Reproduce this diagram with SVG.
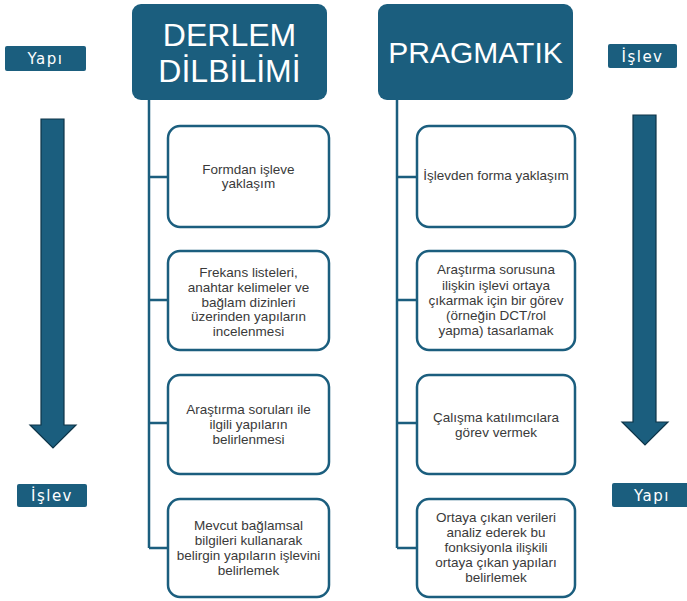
<svg xmlns="http://www.w3.org/2000/svg" width="687" height="601" viewBox="0 0 687 601">
<style>
.hdr{fill:#1B5E7E;}
.hdrt{fill:#fff;font-family:"Liberation Sans",Arial,sans-serif;text-anchor:middle;}
.lbl{fill:#1B5E7E;}
.lblt{fill:#fff;font-family:"DejaVu Sans",Verdana,sans-serif;font-size:15px;text-anchor:middle;letter-spacing:1.5px;}
.box{fill:#fff;stroke:#1B5E7E;stroke-width:2.5;}
.bt{fill:#3a3a3a;font-family:"Liberation Sans",Arial,sans-serif;font-size:13.5px;text-anchor:middle;}
.con{fill:none;stroke:#1B5E7E;stroke-width:2.5;}
.arr{fill:#1B5E7E;stroke:#0E3448;stroke-width:1.2;}
</style>
<rect width="687" height="601" fill="#fff"/>
<g id="header-derlem"><rect class="hdr" x="132" y="4" width="195" height="96" rx="9"/>
<text class="hdrt" x="229.5" y="46" font-size="32">DERLEM</text>
<text class="hdrt" x="229.5" y="82" font-size="32">DİLBİLİMİ</text></g>
<g id="header-pragmatik"><rect class="hdr" x="378" y="4" width="195" height="96" rx="9"/>
<text class="hdrt" x="475.5" y="63" font-size="30">PRAGMATIK</text></g>
<g id="label-yapi-left"><rect class="lbl" x="5" y="46" width="81" height="25" rx="2"/><text class="lblt" x="45.5" y="64">Yapı</text></g>
<g id="label-islev-right"><rect class="lbl" x="608" y="44" width="69" height="24" rx="2"/><text class="lblt" x="642.5" y="62">İşlev</text></g>
<g id="label-islev-left"><rect class="lbl" x="17" y="484" width="70" height="23" rx="2"/><text class="lblt" x="52" y="501">İşlev</text></g>
<g id="label-yapi-right"><rect class="lbl" x="612" y="483" width="78" height="24" rx="2"/><text class="lblt" x="652" y="501">Yapı</text></g>
<g id="arrow-left"><polygon class="arr" points="41,119 64,119 64,425 76,425 53,448 30,425 41,425"/></g>
<g id="arrow-right"><polygon class="arr" points="633,115 656,115 656,422 668,422 645,445 622,422 633,422"/></g>
<g id="connectors">
<path class="con" d="M149,100V548M149,177H168M149,300H168M149,423H168M149,548H168"/>
<path class="con" d="M397,100V548M397,177H417M397,300H417M397,423H417M397,548H417"/>
</g>
<g id="l1"><rect class="box" x="168" y="126" width="161" height="101" rx="12"/>
<text class="bt" x="248.5" y="174">Formdan işleve</text><text class="bt" x="248.5" y="188">yaklaşım</text></g>
<g id="l2"><rect class="box" x="168" y="251" width="161" height="99" rx="12"/>
<text class="bt" x="248.5" y="277">Frekans listeleri,</text><text class="bt" x="248.5" y="292">anahtar kelimeler ve</text><text class="bt" x="248.5" y="307">bağlam dizinleri</text><text class="bt" x="248.5" y="321">üzerinden yapıların</text><text class="bt" x="248.5" y="336">incelenmesi</text></g>
<g id="l3"><rect class="box" x="168" y="375" width="161" height="99" rx="12"/>
<text class="bt" x="248.5" y="414">Araştırma soruları ile</text><text class="bt" x="248.5" y="429">ilgili yapıların</text><text class="bt" x="248.5" y="444">belirlenmesi</text></g>
<g id="l4"><rect class="box" x="168" y="499" width="161" height="98" rx="12"/>
<text class="bt" x="248.5" y="530">Mevcut bağlamsal</text><text class="bt" x="248.5" y="545">bilgileri kullanarak</text><text class="bt" x="248.5" y="560">belirgin yapıların işlevini</text><text class="bt" x="248.5" y="575">belirlemek</text></g>
<g id="r1"><rect class="box" x="417" y="126" width="158" height="101" rx="12"/>
<text class="bt" x="496" y="180">İşlevden forma yaklaşım</text></g>
<g id="r2"><rect class="box" x="417" y="251" width="158" height="99" rx="12"/>
<text class="bt" x="496" y="274">Araştırma sorusuna</text><text class="bt" x="496" y="290">ilişkin işlevi ortaya</text><text class="bt" x="496" y="305">çıkarmak için bir görev</text><text class="bt" x="496" y="320">(örneğin DCT/rol</text><text class="bt" x="496" y="335">yapma) tasarlamak</text></g>
<g id="r3"><rect class="box" x="417" y="375" width="158" height="99" rx="12"/>
<text class="bt" x="496" y="422">Çalışma katılımcılara</text><text class="bt" x="496" y="437">görev vermek</text></g>
<g id="r4"><rect class="box" x="417" y="499" width="158" height="98" rx="12"/>
<text class="bt" x="496" y="522">Ortaya çıkan verileri</text><text class="bt" x="496" y="537">analiz ederek bu</text><text class="bt" x="496" y="552">fonksiyonla ilişkili</text><text class="bt" x="496" y="567">ortaya çıkan yapıları</text><text class="bt" x="496" y="582">belirlemek</text></g>
</svg>
